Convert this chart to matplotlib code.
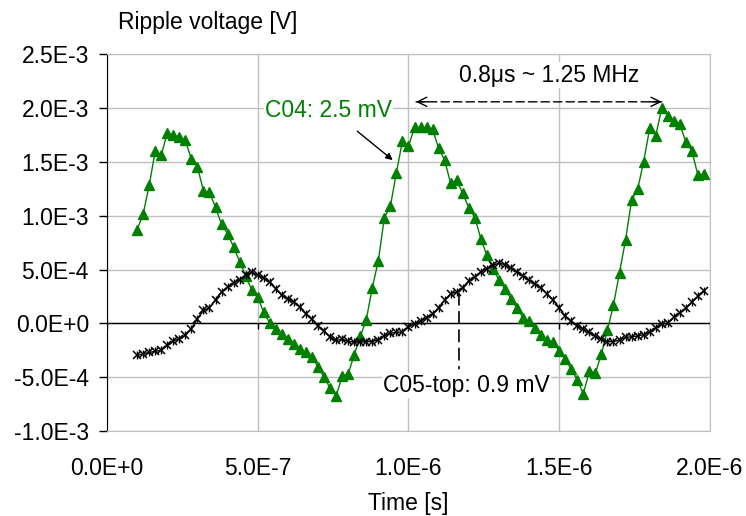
import numpy as np
import matplotlib
matplotlib.use("Agg")
import matplotlib.pyplot as plt
from matplotlib.ticker import FuncFormatter

plt.rcParams['font.family'] = ['Liberation Sans', 'DejaVu Sans']
plt.rcParams['font.size'] = 16.5

# sample grid: 100 ns .. 1.98 us, 20 ns step
time_s = np.arange(10, 200, 2) * 1e-8

# C04 ripple [mV]
c04_mv = [0.871, 1.017, 1.283, 1.604, 1.562, 1.772, 1.748, 1.735, 1.701, 1.524,
          1.457, 1.231, 1.218, 1.080, 0.920, 0.835, 0.712, 0.575, 0.442, 0.312,
          0.246, 0.102, 0.002, -0.056, -0.096, -0.142, -0.188, -0.236, -0.270, -0.310,
          -0.405, -0.498, -0.601, -0.675, -0.493, -0.470, -0.291, -0.121, 0.034, 0.331,
          0.582, 0.984, 1.089, 1.403, 1.697, 1.648, 1.822, 1.822, 1.822, 1.804,
          1.627, 1.518, 1.301, 1.331, 1.208, 1.077, 0.984, 0.789, 0.633, 0.509,
          0.404, 0.318, 0.230, 0.140, 0.054, 0.019, -0.042, -0.104, -0.154, -0.174,
          -0.258, -0.333, -0.426, -0.524, -0.655, -0.444, -0.463, -0.284, -0.062, 0.172,
          0.473, 0.776, 1.145, 1.248, 1.502, 1.813, 1.744, 1.999, 1.930, 1.884,
          1.850, 1.688, 1.604, 1.378, 1.387]

# C05-top ripple [mV]
c05_mv = [-0.298, -0.282, -0.270, -0.258, -0.251, -0.205, -0.163, -0.142, -0.112, -0.049,
          0.044, 0.121, 0.146, 0.221, 0.291, 0.338, 0.375, 0.407, 0.447, 0.475,
          0.452, 0.419, 0.382, 0.323, 0.261, 0.230, 0.198, 0.152, 0.090, 0.039,
          -0.023, -0.070, -0.124, -0.158, -0.147, -0.165, -0.174, -0.174, -0.169, -0.168,
          -0.151, -0.115, -0.093, -0.081, -0.081, -0.031, -0.007, 0.021, 0.053, 0.090,
          0.146, 0.214, 0.277, 0.291, 0.332, 0.394, 0.431, 0.478, 0.509, 0.540,
          0.561, 0.547, 0.512, 0.480, 0.442, 0.400, 0.363, 0.331, 0.273, 0.217,
          0.146, 0.065, 0.021, -0.023, -0.053, -0.084, -0.119, -0.149, -0.169, -0.169,
          -0.152, -0.130, -0.124, -0.116, -0.104, -0.081, -0.040, -0.003, 0.002, 0.056,
          0.098, 0.140, 0.198, 0.251, 0.303]

c04 = np.array(c04_mv) * 1e-3
c05 = np.array(c05_mv) * 1e-3

x_ticks = [0.0, 5e-7, 1e-6, 1.5e-6, 2e-6]
y_ticks = [-1e-3, -5e-4, 0.0, 5e-4, 1e-3, 1.5e-3, 2e-3, 2.5e-3]
ymin, ymax = -1e-3, 2.5e-3

grid_col = '#c0c0c0'
green = '#008000'


def excel_sci(v, pos=None):
    # Excel style 0.0E+0
    if abs(v) < 1e-15:
        return '0.0E+0'
    e = int(np.floor(np.log10(abs(v)) + 1e-9))
    return f'{v / 10**e:.1f}E{e:+d}'


fig = plt.figure(figsize=(7.46, 5.16), dpi=100)
ax = fig.add_axes([0.1434, 0.1647, 0.8083, 0.7297])

ax.set_xlim(0, 2e-6)
ax.set_ylim(ymin, ymax)
ax.set_xticks(x_ticks)
ax.set_yticks(y_ticks)
ax.xaxis.set_major_formatter(FuncFormatter(excel_sci))
ax.yaxis.set_major_formatter(FuncFormatter(excel_sci))
ax.grid(True, color=grid_col, lw=1, zorder=0)
ax.set_axisbelow(True)

# horizontal axis crossing at 0, with its tick marks hanging down
ax.axhline(0, color='black', lw=1, zorder=1)
tick_len = 0.055e-3
ax.vlines(x_ticks, -tick_len, 0, color='black', lw=1, zorder=1)

ax.plot(time_s, c04, color=green, lw=1, marker='^', ms=7, mec=green, mfc=green, zorder=2)
ax.plot(time_s, c05, color='black', lw=1, marker='x', ms=6, mew=1.1, zorder=3)
ax.plot(time_s, c05, ls='none', color='black', marker='|', ms=6, mew=1.0, zorder=3)

for s in ['top', 'right', 'bottom']:
    ax.spines[s].set_color(grid_col)
ax.spines['left'].set_color('black')
ax.tick_params(axis='y', direction='out', length=6, width=1, pad=7, colors='black')
ax.tick_params(axis='x', length=0, pad=19)

ax.set_xlabel('Time [s]', labelpad=8)
fig.text(118 / 746, 1 - 23 / 516, 'Ripple voltage [V]', ha='left', va='center')

box = dict(facecolor='white', edgecolor='none', pad=1)
ax.text(0.524e-6, 1.983e-3, 'C04: 2.5 mV', color=green, ha='left', va='center', bbox=box, zorder=4)
ax.annotate('', xy=(0.955e-6, 1.502e-3), xytext=(0.823e-6, 1.803e-3),
            arrowprops=dict(arrowstyle='-|>', color='black', lw=1, mutation_scale=10))

ax.text(1.466e-6, 2.309e-3, '0.8\u03bcs ~ 1.25 MHz', ha='center', va='center', bbox=box, zorder=4)
ax.annotate('', xy=(1.84e-6, 2.06e-3), xytext=(1.025e-6, 2.06e-3),
            arrowprops=dict(arrowstyle='-', color='black', lw=1, linestyle=(0, (6, 3)),
                            shrinkA=0, shrinkB=0))
for tip, tail in [(1.84e-6, 1.80e-6), (1.025e-6, 1.065e-6)]:
    ax.annotate('', xy=(tip, 2.06e-3), xytext=(tail, 2.06e-3),
                arrowprops=dict(arrowstyle='->', color='black', lw=1, shrinkA=0, shrinkB=0))

ax.annotate('', xy=(1.1675e-6, -0.42e-3), xytext=(1.1675e-6, 0.28e-3),
            arrowprops=dict(arrowstyle='-', color='black', lw=1.2, linestyle=(0, (7, 4)),
                            shrinkA=0, shrinkB=0))
ax.text(1.193e-6, -0.577e-3, 'C05-top: 0.9 mV', ha='center', va='center', bbox=box, zorder=4)

fig.savefig('out.png', dpi=100)
